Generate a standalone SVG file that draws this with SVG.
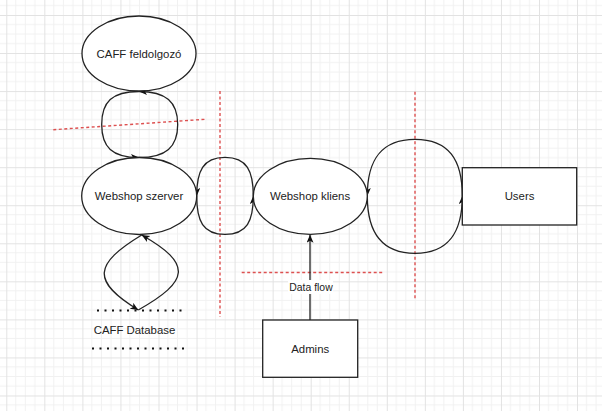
<svg xmlns="http://www.w3.org/2000/svg" width="602" height="411" viewBox="0 0 602 411">
  <defs>
    <pattern id="grid" x="6.3" y="15" width="38.05" height="38.05" patternUnits="userSpaceOnUse">
      <path d="M9.51,0 V38.05 M19.02,0 V38.05 M28.54,0 V38.05 M0,9.51 H38.05 M0,19.02 H38.05 M0,28.54 H38.05" stroke="#f1f1f1" stroke-width="1" fill="none"/>
      <path d="M0.5,0 V38.05 M0,0.5 H38.05" stroke="#e2e2e2" stroke-width="1" fill="none"/>
    </pattern>
    <marker id="arr" markerUnits="userSpaceOnUse" markerWidth="10" markerHeight="8" refX="8" refY="3.5" orient="auto">
      <path d="M0,0 L8,3.5 L0,7 L2,3.5 Z" fill="#111"/>
    </marker>
  </defs>
  <style>
    .node { fill: #ffffff; stroke: #222; stroke-width: 1.3; }
    .lbl { font-family: "Liberation Sans", Arial, sans-serif; font-size: 11.4px; fill: #222; text-anchor: middle; dominant-baseline: central; }
    .small { font-size: 10.4px; }
    .edge { fill: none; stroke: #222; stroke-width: 1.3; marker-end: url(#arr); }
    .bound { fill: none; stroke: #dd5050; stroke-width: 1.4; stroke-dasharray: 3 2.5; }
    .dots { fill: none; stroke: #111; stroke-width: 2; stroke-dasharray: 2 5.5; }
  </style>

  <rect x="0" y="0" width="602" height="411" fill="#ffffff"/>
  <rect x="0" y="0" width="602" height="411" fill="url(#grid)"/>

  <g id="boundaries">
    <line class="bound" x1="53.3" y1="129.7" x2="205" y2="119.3"/>
    <line class="bound" x1="220" y1="91" x2="220" y2="317"/>
    <line class="bound" x1="415" y1="91.7" x2="415" y2="300"/>
    <line class="bound" x1="241.7" y1="272.5" x2="382.7" y2="272.5"/>
  </g>

  <g id="connectors">
    <!-- CAFF feldolgozó <-> Webshop szerver -->
    <path class="edge" d="M139,91.5 C112,91.5 101.7,102 101.7,124.5 C101.7,147 112,157.5 139,157.5"/>
    <path class="edge" d="M139,157.5 C166,157.5 177.7,147 177.7,124.5 C177.7,102 166,91.5 139,91.5"/>
    <!-- Webshop szerver <-> Webshop kliens -->
    <path class="edge" d="M253.3,196 C253.3,171 247,157.3 225,157.3 C203,157.3 196.7,171 196.7,196"/>
    <path class="edge" d="M196.7,196 C196.7,221 203,234.3 225,234.3 C247,234.3 253.3,221 253.3,196"/>
    <!-- Webshop kliens <-> Users -->
    <path class="edge" d="M462.3,196 C462.3,160 449,139.3 415,139.3 C381,139.3 367.3,160 367.3,196"/>
    <path class="edge" d="M367.3,196 C367.3,232 381,253.3 415,253.3 C449,253.3 462.3,232 462.3,196"/>
    <!-- Webshop szerver <-> CAFF Database -->
    <path class="edge" d="M141.7,235 C94.1,264 90.7,281 138.3,310"/>
    <path class="edge" d="M138.3,310 C189.4,281 192.8,264 141.7,235"/>
    <!-- Admins -> Webshop kliens -->
    <g id="dataflow">
      <path class="edge" d="M310,320 L310,234.8"/>
      <rect x="288" y="280" width="45" height="14" fill="#ffffff"/>
      <text class="lbl small" x="311" y="287">Data flow</text>
    </g>
  </g>

  <g id="caff-feldolgozo">
    <ellipse class="node" cx="139" cy="53.5" rx="57" ry="37.5"/>
    <text class="lbl" x="139" y="53.5">CAFF feldolgozó</text>
  </g>

  <g id="webshop-szerver">
    <ellipse class="node" cx="139.2" cy="196" rx="57.5" ry="38.5"/>
    <text class="lbl" x="139" y="196">Webshop szerver</text>
  </g>

  <g id="webshop-kliens">
    <ellipse class="node" cx="310.3" cy="196.3" rx="57" ry="38"/>
    <text class="lbl" x="310" y="196">Webshop kliens</text>
  </g>

  <g id="users">
    <rect class="node" x="462.3" y="167.7" width="114.4" height="57.3" stroke="#333" stroke-width="1.5"/>
    <text class="lbl" x="519.5" y="196">Users</text>
  </g>

  <g id="admins">
    <rect class="node" x="262.7" y="320" width="95" height="57.3"/>
    <text class="lbl" x="310.2" y="348.5">Admins</text>
  </g>

  <g id="caff-database">
    <line class="dots" x1="97" y1="310.5" x2="183" y2="310.5"/>
    <line class="dots" x1="92" y1="348.5" x2="186" y2="348.5"/>
    <text class="lbl" x="134.5" y="329.5">CAFF Database</text>
  </g>
</svg>
